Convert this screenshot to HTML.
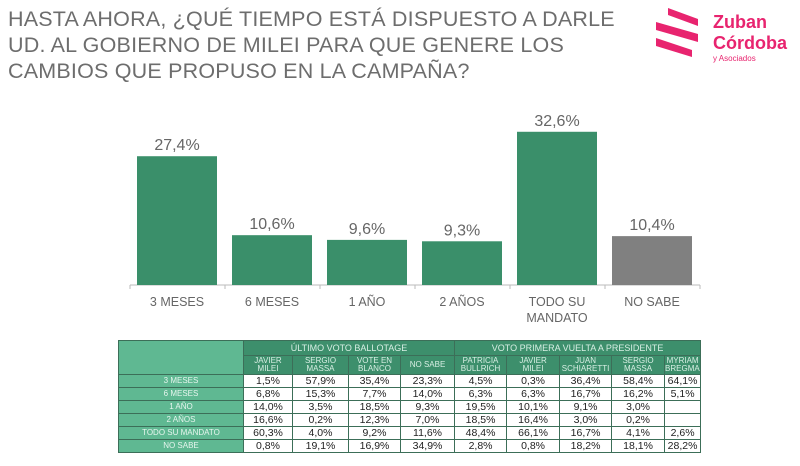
<!DOCTYPE html>
<html><head><meta charset="utf-8"><style>
body{margin:0;width:800px;height:466px;background:#fff;font-family:"Liberation Sans",sans-serif;position:relative;overflow:hidden}
.title{position:absolute;left:8px;top:6px;font-size:21.5px;line-height:26px;color:#6d6d6d;letter-spacing:0.2px}
table{position:absolute;left:118px;top:340px;border-collapse:collapse;font-size:10.5px;color:#222;table-layout:fixed}
td{border:1px solid #3c6e58;padding:0;text-align:center;height:12px;line-height:12px;overflow:hidden;white-space:nowrap}
.h{background:#3d8f6c;color:#d8efe4;font-size:8px;line-height:8.5px}
.l{background:#5fb892;color:#e6f5ee;font-size:8px}
</style></head><body>
<div class="title">HASTA AHORA, ¿QUÉ TIEMPO ESTÁ DISPUESTO A DARLE<br>UD. AL GOBIERNO DE MILEI PARA QUE GENERE LOS<br>CAMBIOS QUE PROPUSO EN LA CAMPAÑA?</div>
<svg style="position:absolute;left:0;top:0" width="800" height="466">
<polygon points="668,8 698,19 698,26 668,15" fill="#e8246f"/>
<polygon points="656,22 698,34 698,42 656,30" fill="#e8246f"/>
<polygon points="656,38 692,50 692,57 656,46" fill="#e8246f"/>
<text x="713" y="28" font-size="18" fill="#e8246f" font-family="Liberation Sans" font-weight="bold">Zuban</text>
<text x="713" y="49" font-size="18" fill="#e8246f" font-family="Liberation Sans" font-weight="bold">Córdoba</text>
<text x="713" y="61" font-size="8" fill="#e8246f" font-family="Liberation Sans">y Asociados</text>
</svg>
<svg id="chart" style="position:absolute;left:0;top:0" width="800" height="335"></svg>
<table style="width:582px">
<colgroup><col style="width:125px"><col style="width:49px"><col style="width:56px"><col style="width:52px"><col style="width:54px"><col style="width:52px"><col style="width:53px"><col style="width:52px"><col style="width:53px"><col style="width:36px"></colgroup>
<tr style="height:15px"><td class="l" rowspan="2"></td><td class="h" colspan="4" style="font-size:9px">ÚLTIMO VOTO BALLOTAGE</td><td class="h" colspan="5" style="font-size:9px">VOTO PRIMERA VUELTA A PRESIDENTE</td></tr>
<tr style="height:19px"><td class="h">JAVIER<br>MILEI</td><td class="h">SERGIO<br>MASSA</td><td class="h">VOTE EN<br>BLANCO</td><td class="h">NO SABE</td><td class="h">PATRICIA<br>BULLRICH</td><td class="h">JAVIER<br>MILEI</td><td class="h">JUAN<br>SCHIARETTI</td><td class="h">SERGIO<br>MASSA</td><td class="h">MYRIAM<br>BREGMAN</td></tr>
<tr><td class="l">3 MESES</td><td>1,5%</td><td>57,9%</td><td>35,4%</td><td>23,3%</td><td>4,5%</td><td>0,3%</td><td>36,4%</td><td>58,4%</td><td>64,1%</td></tr>
<tr><td class="l">6 MESES</td><td>6,8%</td><td>15,3%</td><td>7,7%</td><td>14,0%</td><td>6,3%</td><td>6,3%</td><td>16,7%</td><td>16,2%</td><td>5,1%</td></tr>
<tr><td class="l">1 AÑO</td><td>14,0%</td><td>3,5%</td><td>18,5%</td><td>9,3%</td><td>19,5%</td><td>10,1%</td><td>9,1%</td><td>3,0%</td><td></td></tr>
<tr><td class="l">2 AÑOS</td><td>16,6%</td><td>0,2%</td><td>12,3%</td><td>7,0%</td><td>18,5%</td><td>16,4%</td><td>3,0%</td><td>0,2%</td><td></td></tr>
<tr><td class="l">TODO SU MANDATO</td><td>60,3%</td><td>4,0%</td><td>9,2%</td><td>11,6%</td><td>48,4%</td><td>66,1%</td><td>16,7%</td><td>4,1%</td><td>2,6%</td></tr>
<tr><td class="l">NO SABE</td><td>0,8%</td><td>19,1%</td><td>16,9%</td><td>34,9%</td><td>2,8%</td><td>0,8%</td><td>18,2%</td><td>18,1%</td><td>28,2%</td></tr>
</table>
<script>
const categories=["3 MESES","6 MESES","1 AÑO","2 AÑOS","TODO SU|MANDATO","NO SABE"];
const values=[27.4,10.6,9.6,9.3,32.6,10.4];
const labels=["27,4%","10,6%","9,6%","9,3%","32,6%","10,4%"];
const svg=document.getElementById('chart');const NS='http://www.w3.org/2000/svg';
const base=285,pxPer=4.7,x0=130,step=95;
function yv(v){return base-v*pxPer}
function xc(i){return x0+step*i}
function mk(t,a){const e=document.createElementNS(NS,t);for(const k in a)e.setAttribute(k,a[k]);svg.appendChild(e);return e}
const ax=mk('line',{x1:x0,x2:x0+step*6,y1:base,y2:base,stroke:'#bbb','stroke-width':1});


for(let i=0;i<=6;i++){const t=mk('line',{x1:xc(i),x2:xc(i),y1:base,y2:base+4,stroke:'#bbb'});

}
values.forEach((v,i)=>{
 const r=mk('rect',{x:xc(i)+7,y:yv(v),width:80,height:base-yv(v),fill:i==5?'#808080':'#3a8f6a'});
 
 
 const t=mk('text',{x:xc(i)+47,y:yv(v)-6,'text-anchor':'middle','font-size':16,fill:'#666','font-family':'Liberation Sans'});
 t.textContent=labels[i];
 
 
 categories[i].split('|').forEach((s,j)=>{
  const c=mk('text',{x:xc(i)+47,y:base+21+j*16,'text-anchor':'middle','font-size':12.5,fill:'#666','font-family':'Liberation Sans'});
  c.textContent=s;
  
  
 });
});
</script>
</body></html>
